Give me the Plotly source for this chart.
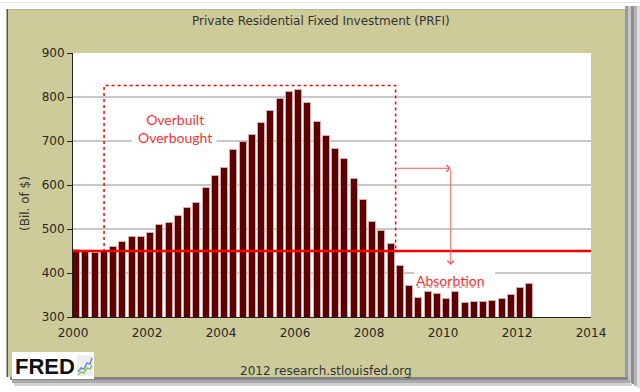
import plotly.graph_objects as go

# ---------------- data ----------------
quarters = [f"{y}Q{q}" for y in range(2000, 2013) for q in range(1, 5)][:50]
prfi = [452, 450, 446, 450, 459, 470, 482, 482, 492, 509, 514, 530,
        548, 560, 593, 620, 639, 679, 698, 714, 740, 768, 795, 811,
        817, 787, 744, 711, 682, 660, 614, 567, 517, 495, 466, 417,
        370, 344, 356, 353, 342, 356, 331, 335, 335, 337, 340, 350,
        367, 374]
x_vals = [int(q[:4]) + (int(q[-1]) - 1) * 0.25 for q in quarters]
x_ticks = [2000, 2002, 2004, 2006, 2008, 2010, 2012, 2014]
y_ticks = [300, 400, 500, 600, 700, 800, 900]
baseline = 450
box_x = [2000.84, 2008.72]
box_y = [450, 826]
arrow_x = 2010.21
arrow_y = [638, 418]

# ---------------- layout geometry ----------------
W, H = 640, 392
L, R, T, B = 73, 49, 53, 75
PW, PH = W - L - R, H - T - B

def X(px):
    return (px - L) / PW

def Y(py):
    return (T + PH - py) / PH

OLIVE = "#cdcb99"
RED = "#ff0000"
TXTRED = "#ff2f2f"

fig = go.Figure()
fig.add_trace(go.Bar(
    x=x_vals, y=prfi, width=0.19, offset=0,
    marker=dict(color="#5c0000", line=dict(color="#d9aaaa", width=1)),
    hoverinfo="x+y", showlegend=False,
))

shapes = []
def prect(x0, y0, x1, y1, color, layer="above"):
    shapes.append(dict(type="rect", xref="paper", yref="paper",
                       x0=X(x0), x1=X(x1), y0=Y(y1), y1=Y(y0),
                       fillcolor=color, line=dict(width=0), layer=layer))

# outer screenshot frame / shadows
prect(0, 0, 640, 9, "white")
prect(0, 0, 7, 392, "white")
prect(0, 377, 640, 392, "white")
prect(625, 0, 640, 392, "white")
prect(6.5, 9, 8, 377, "#555555")
prect(8, 9, 625, 10, "#b9b78a")
prect(625, 6, 628, 380, "#9a9a9a")
prect(628, 6, 631, 382, "#c6c6c6")
prect(631, 6, 634, 384, "#8c8c8c")
prect(634, 6, 637, 386, "#b4b4b4")
prect(637, 6, 640, 388, "#dedede")
prect(10, 377, 628, 380, "#858585")
prect(12, 380, 630, 383, "#aaaaaa")
prect(14, 383, 632, 386, "#d2d2d2")
prect(0, 2, 640, 3, "#e6e6e6")

# FRED logo
prect(12, 352, 94, 379, "white")
prect(77, 355, 93, 376, "#eeeeee")
def ppath(pts, color, width):
    d = "M " + " L ".join(f"{X(a):.5f},{Y(b):.5f}" for a, b in pts)
    shapes.append(dict(type="path", xref="paper", yref="paper", path=d,
                       line=dict(color=color, width=width), layer="above"))
ppath([(78, 372), (81, 368), (84, 369), (87, 363), (90, 364), (92, 358)], "#6a8fc8", 1.5)
ppath([(78, 375), (81, 372), (84, 373), (87, 368), (90, 369), (92, 365)], "#8fbf6a", 1.5)

# white gaps behind the text labels on gridlines
shapes.append(dict(type="rect", xref="x", yref="y", x0=2001.59, x1=2003.88,
                   y0=694, y1=706, fillcolor="white", line=dict(width=0), layer="above"))
shapes.append(dict(type="rect", xref="x", yref="y", x0=2009.22, x1=2011.41,
                   y0=394, y1=406, fillcolor="white", line=dict(width=0), layer="above"))

# dotted box
shapes.append(dict(type="rect", xref="x", yref="y", x0=box_x[0], x1=box_x[1],
                   y0=box_y[0], y1=box_y[1], line=dict(color=RED, width=1.5, dash="dot"),
                   fillcolor="rgba(0,0,0,0)", layer="above"))
# baseline
shapes.append(dict(type="line", xref="x", yref="y", x0=2000, x1=2014,
                   y0=baseline, y1=baseline, line=dict(color=RED, width=2.5), layer="above"))
# squiggle under Absorbtion
shapes.append(dict(type="line", xref="x", yref="y", x0=2009.3, x1=2011.1,
                   y0=368, y1=368, line=dict(color="#ff5050", width=1, dash="dot"), layer="above"))

annotations = [
    dict(xref="paper", yref="paper", x=X(321), y=Y(21), text="Private Residential Fixed Investment (PRFI)",
         showarrow=False, font=dict(family="DejaVu Sans", size=12, color="#333333"),
         xanchor="center", yanchor="middle"),
    dict(xref="paper", yref="paper", x=X(25), y=Y(204), text="(Bil. of $)", textangle=-90,
         showarrow=False, font=dict(family="DejaVu Sans", size=12, color="#333333"),
         xanchor="center", yanchor="middle"),
    dict(xref="paper", yref="paper", x=X(326), y=Y(371), text="2012 research.stlouisfed.org",
         showarrow=False, font=dict(family="DejaVu Sans", size=12, color="#333333"),
         xanchor="center", yanchor="middle"),
    dict(xref="paper", yref="paper", x=X(45), y=Y(366), text="<b>FRED</b>",
         showarrow=False, font=dict(family="Liberation Sans", size=22, color="#111111"),
         xanchor="center", yanchor="middle"),
    dict(xref="x", yref="y", x=2002.76, y=728, text="Overbuilt<br>Overbought",
         showarrow=False, font=dict(family="Lato", size=14, color=TXTRED),
         xanchor="center", yanchor="middle"),
    dict(xref="x", yref="y", x=2010.19, y=383, text="Absorbtion",
         showarrow=False, font=dict(family="Lato", size=14, color=TXTRED),
         xanchor="center", yanchor="middle"),
    dict(xref="x", yref="y", axref="x", ayref="y", x=arrow_x, y=arrow_y[0],
         ax=box_x[1], ay=arrow_y[0], text="", showarrow=True, arrowhead=4,
         arrowsize=1.3, arrowwidth=1, arrowcolor="#ff5a5a", standoff=0, startstandoff=0),
    dict(xref="x", yref="y", axref="x", ayref="y", x=arrow_x, y=arrow_y[1],
         ax=arrow_x, ay=arrow_y[0], text="", showarrow=True, arrowhead=4,
         arrowsize=1.3, arrowwidth=1, arrowcolor="#ff5a5a", standoff=0, startstandoff=0),
]

fig.update_layout(
    width=W, height=H, autosize=False,
    margin=dict(l=L, r=R, t=T, b=B, pad=0),
    paper_bgcolor=OLIVE, plot_bgcolor="white",
    shapes=shapes, annotations=annotations,
    bargap=0, showlegend=False,
    xaxis=dict(range=[2000, 2014], tickvals=x_ticks, ticktext=[str(v) for v in x_ticks],
               showgrid=False, zeroline=False, showline=True, linecolor="#222222", linewidth=1,
               ticks="inside", ticklen=5, tickcolor="#222222", ticklabelstandoff=5,
               tickfont=dict(family="DejaVu Sans", size=12, color="#262626")),
    yaxis=dict(range=[300, 900], tickvals=y_ticks, ticktext=[str(v) for v in y_ticks],
               showgrid=True, gridcolor="#c8c8c8", gridwidth=1.5, zeroline=False,
               showline=True, linecolor="#222222", linewidth=1,
               ticks="outside", ticklen=5, tickcolor="#222222",
               tickfont=dict(family="DejaVu Sans", size=12, color="#262626")),
)

fig.write_html("out.html", config={"displayModeBar": False},
               post_script="document.body.style.margin='0';document.body.style.padding='0';document.body.style.overflow='hidden';")
